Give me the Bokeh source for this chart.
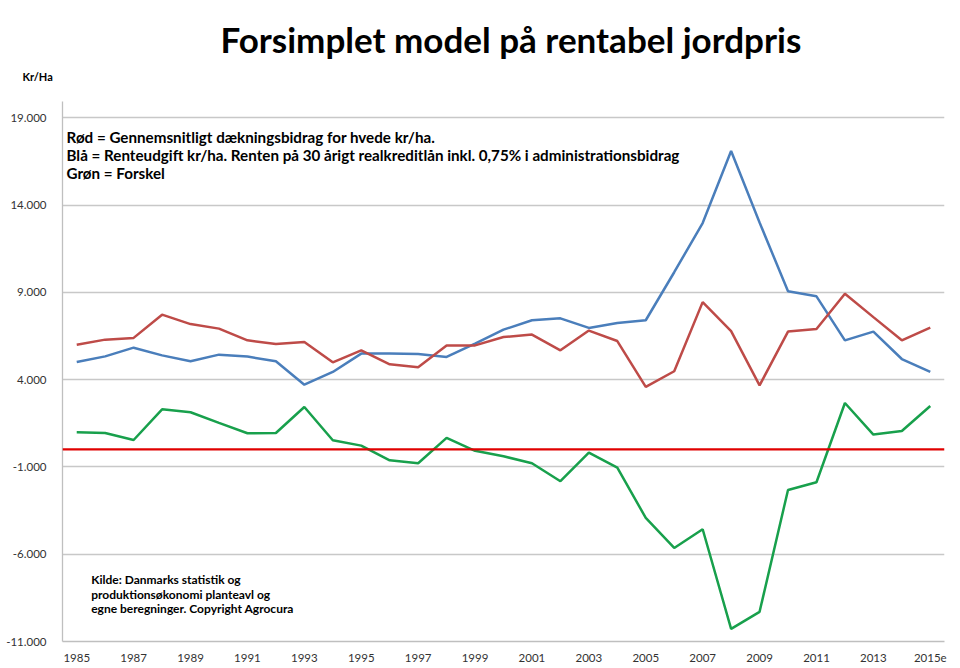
from bokeh.plotting import figure
from bokeh.models import Label, FixedTicker, Span, Title
from bokeh.embed import file_html
from bokeh.resources import INLINE

years = list(range(1985, 2016))
year_labels = [str(y) for y in years[:-1]] + ["2015e"]

red = [6000, 6290, 6390, 7720, 7180, 6920, 6250, 6040, 6150, 4990, 5680, 4880, 4710, 5950, 5960,
       6440, 6580, 5680, 6810, 6210, 3580, 4480, 8440, 6780, 3670, 6750, 6900, 8920, 7580, 6250, 6980]
blue = [5010, 5330, 5830, 5390, 5050, 5430, 5320, 5050, 3710, 4440, 5490, 5500, 5470, 5300, 6060,
        6860, 7400, 7510, 6960, 7240, 7400, 10150, 12970, 17090, 13000, 9060, 8770, 6250, 6750, 5180, 4440]
green = [980, 940, 540, 2300, 2130, 1520, 930, 940, 2430, 530, 220, -620, -790, 660, -80,
         -390, -790, -1820, -180, -1040, -3920, -5640, -4570, -10280, -9300, -2320, -1880, 2660, 850, 1060, 2490]

y_ticks = [-11000, -6000, -1000, 4000, 9000, 14000, 19000]
y_tick_labels = ["-11.000", "-6.000", "-1.000", "4.000", "9.000", "14.000", "19.000"]

title_text = "Forsimplet model på rentabel jordpris"
unit_text = "Kr/Ha"
legend_lines = [
    "Rød = Gennemsnitligt dækningsbidrag for hvede kr/ha.",
    "Blå = Renteudgift kr/ha. Renten på 30 årigt realkreditlån inkl. 0,75% i administrationsbidrag",
    "Grøn = Forskel",
]
source_lines = [
    "Kilde: Danmarks statistik og",
    "produktionsøkonomi planteavl og",
    "egne beregninger. Copyright Agrocura",
]

FONT = "Lato"

p = figure(width=960, height=664, output_backend="svg", toolbar_location=None,
           x_range=(1984.5, 2015.5), y_range=(-11000, 19930),
           min_border_left=62, min_border_right=16, min_border_top=101, min_border_bottom=23,
           title=None)
p.outline_line_color = None
p.background_fill_color = "white"

# titles (first added "above" sits nearest the frame)
p.add_layout(Title(text=unit_text, align="left", offset=-40, standoff=37,
                   text_font=FONT, text_font_style="bold", text_font_size="11px",
                   text_color="black"), "above")
p.add_layout(Title(text=title_text, align="left", offset=158, standoff=-20,
                   text_font=FONT, text_font_style="bold", text_font_size="35px",
                   text_color="black"), "above")

# grid
p.xgrid.grid_line_color = None
p.ygrid.grid_line_color = "#C8C8C8"
p.ygrid.grid_line_width = 1.3
p.yaxis.ticker = FixedTicker(ticks=y_ticks)
p.yaxis.major_label_overrides = {t: l for t, l in zip(y_ticks, y_tick_labels)}
p.xaxis.ticker = FixedTicker(ticks=years[::2])
p.xaxis.major_label_overrides = {y: l for y, l in zip(years, year_labels)}

for ax in (p.xaxis[0], p.yaxis[0]):
    ax.axis_line_color = "#BFBFBF"
    ax.axis_line_width = 1.3
    ax.major_tick_line_color = None
    ax.minor_tick_line_color = None
    ax.major_label_text_font = FONT
    ax.major_label_text_font_size = "11.5px"
    ax.major_label_text_color = "#333333"
p.yaxis.major_label_standoff = 10
p.xaxis.major_label_standoff = 6

p.line(years, blue, line_color="#4A7EBB", line_width=2.5)
p.line(years, red, line_color="#BE4B48", line_width=2.5)
p.line(years, green, line_color="#18A04C", line_width=2.5)
p.add_layout(Span(location=0, dimension="width", line_color="#E00000", line_width=2.2))

# in-plot texts (screen units relative to frame bottom-left)
for t, yy in zip(legend_lines, [504.3, 486.7, 468.3]):
    p.add_layout(Label(x=4, y=yy, x_units="screen", y_units="screen", text=t,
                       text_font=FONT, text_font_style="bold", text_font_size="15.2px",
                       text_align="left", text_baseline="middle", text_color="black"))
for t, yy in zip(source_lines, [61.7, 47.3, 32.7]):
    p.add_layout(Label(x=28.7, y=yy, x_units="screen", y_units="screen", text=t,
                       text_font=FONT, text_font_style="bold", text_font_size="12px",
                       text_align="left", text_baseline="middle", text_color="black"))

open("out.html", "w").write(file_html(p, INLINE))
